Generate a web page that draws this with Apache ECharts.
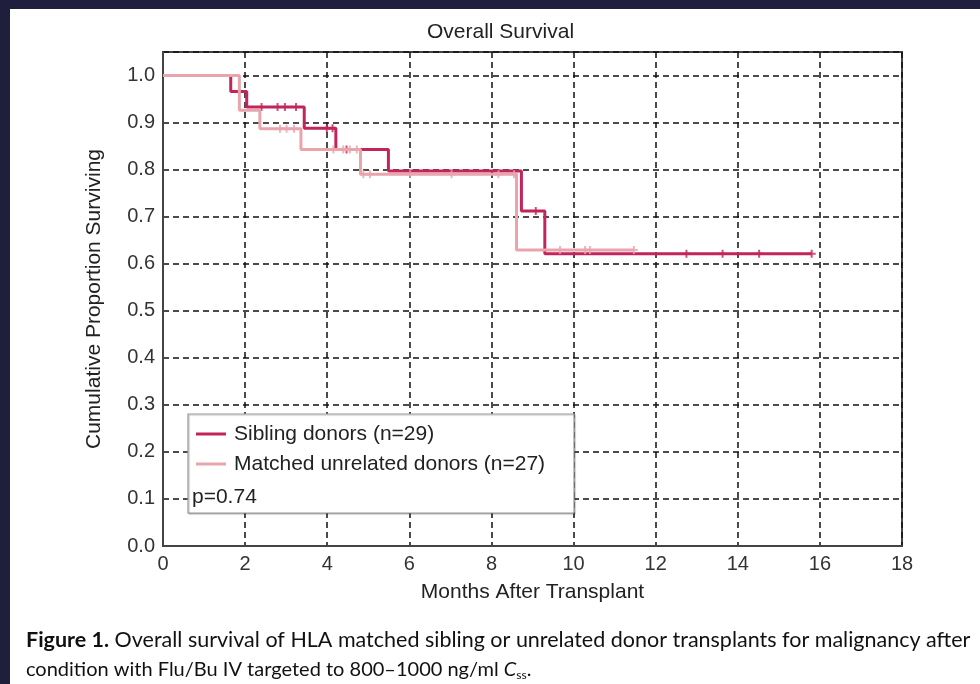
<!DOCTYPE html>
<html><head><meta charset="utf-8">
<script src="https://cdn.jsdelivr.net/npm/echarts@6/dist/echarts.min.js"></script>
<style>
html,body{margin:0;padding:0;background:#1f1f3d;width:980px;height:684px;overflow:hidden}
#paper{position:absolute;left:10px;top:9px;width:970px;height:675px;background:#fff}
#chart{position:absolute;left:0;top:0;width:980px;height:684px}
</style></head><body><div id="paper"></div><div id="chart"></div>
<script>
// Sibling donors: step curve (time in months, cumulative proportion surviving)
const siblingTimes = [0, 1.65, 2.04, 3.44, 4.21, 5.49, 8.73, 9.30, 15.80];
const siblingSurv  = [1.0, 0.966, 0.933, 0.888, 0.843, 0.797, 0.712, 0.621, 0.621];
const siblingCensorTimes = [2.40, 2.79, 2.97, 3.24, 3.99, 4.13, 4.47, 9.08, 12.75, 13.63, 14.52, 15.80];
const siblingCensorSurv  = [0.933, 0.933, 0.933, 0.933, 0.888, 0.888, 0.843, 0.712, 0.621, 0.621, 0.621, 0.621];

// Matched unrelated donors
const matchedTimes = [0, 1.86, 2.36, 3.36, 4.81, 8.61, 11.47];
const matchedSurv  = [1.0, 0.926, 0.887, 0.843, 0.790, 0.629, 0.629];
const matchedCensorTimes = [2.85, 3.01, 3.19, 4.15, 4.39, 4.55, 4.72, 4.88, 5.04, 6.02, 7.03, 8.17, 8.55, 9.67, 10.28, 10.40, 11.47];
const matchedCensorSurv  = [0.887, 0.887, 0.887, 0.843, 0.843, 0.843, 0.843, 0.790, 0.790, 0.790, 0.790, 0.790, 0.790, 0.629, 0.629, 0.629, 0.629];

const seriesNames = ['Sibling donors (n=29)', 'Matched unrelated donors (n=27)'];
const pValueText = 'p=0.74';
const xMin = 0, xMax = 18, xStep = 2;
const yMin = 0, yMax = 1.05, yStep = 0.1;

const zip = (a, b) => a.map((v, i) => [v, b[i]]);
const darkColor = '#c2255c';
const lightColor = '#e9a4ae';
const font = 'Liberation Sans, Arial, sans-serif';
const plus = 'path://M3,0H5V3H8V5H5V8H3V5H0V3H3Z';

const chart = echarts.init(document.getElementById('chart'), null, {renderer: 'canvas'});
chart.setOption({
  backgroundColor: 'transparent',
  animation: false,
  title: [
    {text: 'Overall Survival', left: 427, top: 22, padding: 0,
     textStyle: {fontFamily: font, fontSize: 21, fontWeight: 'normal', color: '#222'}},
    {text: '{b|Figure 1.} Overall survival of HLA matched sibling or unrelated donor transplants for malignancy after',
     left: 26, top: 629, padding: 0,
     textStyle: {fontFamily: 'Lato', fontSize: 21.5, fontWeight: 'normal', color: '#111',
       rich: {b: {fontFamily: 'Lato', fontSize: 21.5, fontWeight: 'bold', color: '#111'}}}},
    {text: 'condition with Flu/Bu IV targeted to 800\u20131000 ng/ml {i|C}{s|ss}.',
     left: 26, top: 659, padding: 0,
     textStyle: {fontFamily: 'Lato', fontSize: 20, fontWeight: 'normal', color: '#111',
       rich: {i: {fontFamily: 'Lato', fontSize: 20, fontStyle: 'italic', color: '#111'},
              s: {fontFamily: 'Lato', fontSize: 12, color: '#111', padding: [10, 0, 0, 0]}}}}
  ],
  grid: {left: 163, right: 78, top: 52, bottom: 138, show: true, borderColor: '#444', borderWidth: 2, backgroundColor: 'transparent'},
  xAxis: {
    type: 'value', min: xMin, max: xMax, interval: xStep,
    name: 'Months After Transplant', nameLocation: 'middle', nameGap: 36,
    nameTextStyle: {fontFamily: font, fontSize: 21, color: '#222'},
    axisLine: {show: true, lineStyle: {color: '#444', width: 2}},
    axisTick: {show: false},
    axisLabel: {margin: 8, fontFamily: font, fontSize: 20, color: '#333'},
    splitLine: {show: true, lineStyle: {color: '#111', width: 1.5, type: [6, 4]}}
  },
  yAxis: {
    type: 'value', min: yMin, max: yMax, interval: yStep,
    name: 'Cumulative Proportion Surviving', nameLocation: 'middle', nameGap: 58,
    nameTextStyle: {fontFamily: font, fontSize: 21, color: '#222'},
    axisLine: {show: true, lineStyle: {color: '#444', width: 2}},
    axisTick: {show: false},
    axisLabel: {margin: 8, fontFamily: font, fontSize: 20, color: '#333', showMaxLabel: false,
      formatter: v => (v > 1.001 ? '' : v.toFixed(1))},
    splitLine: {show: true, lineStyle: {color: '#111', width: 1.5, type: [6, 4]}}
  },
  legend: {
    data: seriesNames, orient: 'vertical', left: 196, top: 422, padding: 0,
    itemGap: 6, itemWidth: 30, itemHeight: 3, icon: 'rect', z: 6,
    textStyle: {fontFamily: font, fontSize: 21, color: '#222', lineHeight: 24, padding: [0, 0, 0, 3]}
  },
  graphic: [
    {type: 'rect', z: 5, shape: {x: 188, y: 414, width: 386, height: 99},
     style: {fill: '#fff', stroke: '#9a9a9a', lineWidth: 1.2, shadowColor: 'rgba(0,0,0,0.25)', shadowOffsetX: 1, shadowOffsetY: 1, shadowBlur: 1}},
    {type: 'text', z: 6, x: 192, y: 497,
     style: {text: pValueText, fill: '#222', font: '21px ' + font, textVerticalAlign: 'middle', verticalAlign: 'middle'}}
  ],
  series: [
    {name: seriesNames[0], type: 'line', step: 'end', data: zip(siblingTimes, siblingSurv),
     showSymbol: false, color: darkColor, lineStyle: {color: darkColor, width: 3}, z: 2},
    {name: seriesNames[0], type: 'scatter', data: zip(siblingCensorTimes, siblingCensorSurv),
     symbol: plus, symbolSize: 8, itemStyle: {color: darkColor}, z: 2},
    {name: seriesNames[1], type: 'line', step: 'end', data: zip(matchedTimes, matchedSurv),
     showSymbol: false, color: lightColor, lineStyle: {color: lightColor, width: 3}, z: 3},
    {name: seriesNames[1], type: 'scatter', data: zip(matchedCensorTimes, matchedCensorSurv),
     symbol: plus, symbolSize: 8, itemStyle: {color: lightColor}, z: 3}
  ]
});
</script></body></html>
